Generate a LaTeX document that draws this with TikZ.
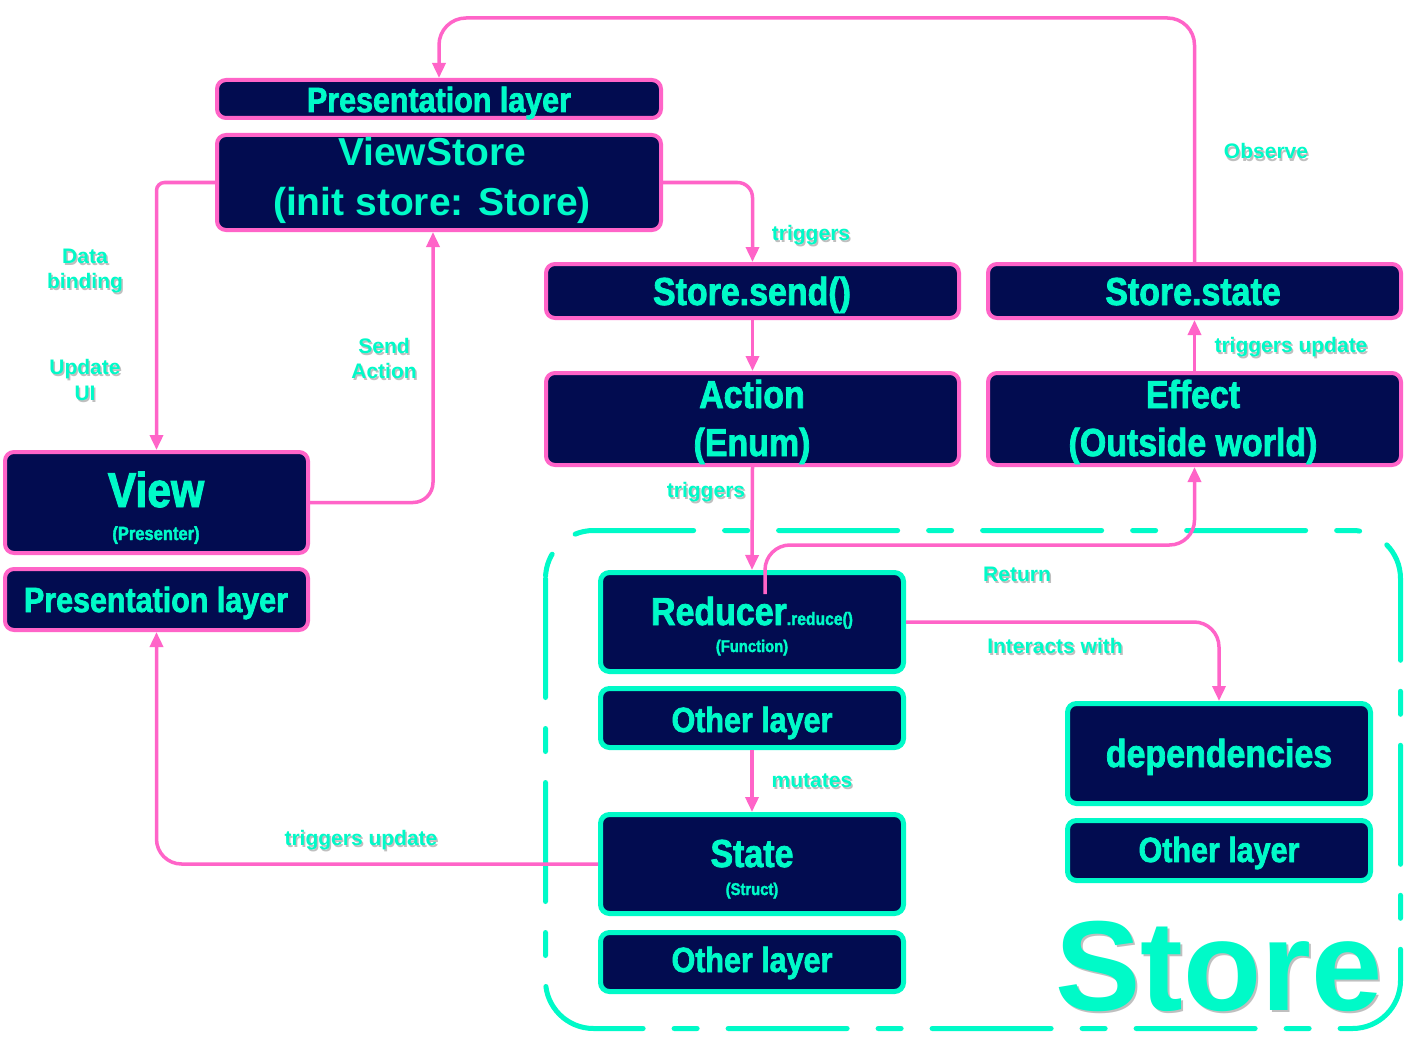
\documentclass[tikz,border=0pt]{standalone}
\usepackage{fontspec}
\setmainfont{Liberation Sans}
\newfontfamily\cond{Liberation Sans}[FakeStretch=0.87, BoldFeatures={FakeBold=2}]
\usetikzlibrary{arrows.meta}
\definecolor{navyc}{RGB}{2,12,80}
\definecolor{mintc}{RGB}{0,250,200}
\definecolor{pinkc}{RGB}{255,100,200}
\newcommand\fs[1]{\fontsize{#1}{#1}\selectfont}
\tikzset{
  pbox/.style={draw=pinkc, line width=4pt, fill=navyc, rounded corners=9pt, inner sep=0pt},
  mbox/.style={draw=mintc, line width=5pt, fill=navyc, rounded corners=9pt, inner sep=0pt},
  conn/.style={draw=pinkc, line width=3.5pt, -{Triangle[length=15pt,width=13pt]}},
  btxt/.style={text=mintc, anchor=base, inner sep=0pt},
  lbl/.style={text=mintc, anchor=base, inner sep=0pt, font=\bfseries\fs{21}},
  lblsh/.style={text=black!55, opacity=0.45, anchor=base, inner sep=0pt, font=\bfseries\fs{21}},
}
\newcommand\lab[4]{%
  \node[lblsh] (#1s) at (#2+1.5,#3+2.5) {#4};
  \node[lbl] (#1) at (#2,#3) {#4};}
\begin{document}
\begin{tikzpicture}[x=1pt,y=-1pt]
\fill[white] (0,0) rectangle (1406,1054);
\useasboundingbox (0,0) rectangle (1406,1054);

% Store container
\draw[mintc, line width=5pt, line cap=round, dash pattern=on 119pt off 31pt on 23pt off 31pt, rounded corners=48pt]
  (545.5,530.5) rectangle (1400.5,1028.5);
\node[text=black!55, opacity=0.45, anchor=base, inner sep=0pt, font=\bfseries\fs{128}] (storeSh) at (1221,1012) {Store};
\node[text=mintc, anchor=base, inner sep=0pt, font=\bfseries\fs{128}] (storeT) at (1219,1010) {Store};

% Pink boxes
\node[pbox, minimum width=444pt, minimum height=38pt] (plTop) at (439,99) {};
\node[pbox, minimum width=444pt, minimum height=95pt] (vs) at (439,182.5) {};
\node[pbox, minimum width=303pt, minimum height=101pt] (view) at (156.5,502.5) {};
\node[pbox, minimum width=303pt, minimum height=61pt] (plBot) at (156.5,599.5) {};
\node[pbox, minimum width=413pt, minimum height=54pt] (send) at (752.5,291) {};
\node[pbox, minimum width=413pt, minimum height=54pt] (sstate) at (1194.5,291) {};
\node[pbox, minimum width=413pt, minimum height=92pt] (action) at (752.5,419) {};
\node[pbox, minimum width=413pt, minimum height=92pt] (effect) at (1194.5,419) {};
% Mint boxes
\node[mbox, minimum width=303pt, minimum height=99pt] (reducer) at (752,622) {};
\node[mbox, minimum width=303pt, minimum height=59pt] (ol1) at (752,718) {};
\node[mbox, minimum width=303pt, minimum height=99pt] (state) at (752,864) {};
\node[mbox, minimum width=303pt, minimum height=59pt] (ol2) at (752,962) {};
\node[mbox, minimum width=303pt, minimum height=100pt] (deps) at (1219,753.5) {};
\node[mbox, minimum width=303pt, minimum height=60pt] (ol3) at (1219,850.5) {};

% Box texts
\node[btxt, font=\cond\bfseries\fs{35}] (plTopT) at (439,112) {Presentation layer};
\node[btxt, font=\bfseries\fs{39}] (vsT1) at (432,166) {ViewStore};
\node[btxt, font=\bfseries\fs{39}] (vsT2) at (432,215) {(init store: Store)};
\node[btxt, font=\cond\bfseries\fs{49}] (viewT1) at (156,507) {View};
\node[btxt, font=\cond\bfseries\fs{19}] (viewT2) at (156,540) {(Presenter)};
\node[btxt, font=\cond\bfseries\fs{35}] (plBotT) at (156,612) {Presentation layer};
\node[btxt, font=\cond\bfseries\fs{39}] (sendT) at (752,305) {Store.send()};
\node[btxt, font=\cond\bfseries\fs{39}] (sstateT) at (1193,305) {Store.state};
\node[btxt, font=\cond\bfseries\fs{39}] (actionT1) at (752,408) {Action};
\node[btxt, font=\cond\bfseries\fs{39}] (actionT2) at (752,456) {(Enum)};
\node[btxt, font=\cond\bfseries\fs{39}] (effectT1) at (1193,408) {Effect};
\node[btxt, font=\cond\bfseries\fs{39}] (effectT2) at (1193,456) {(Outside world)};
\node[btxt, font=\cond\bfseries\fs{39}] (reducerT1) at (752,625) {Reducer{\fs{18}.reduce()}};
\node[btxt, font=\cond\bfseries\fs{17}] (reducerT2) at (752,652) {(Function)};
\node[btxt, font=\cond\bfseries\fs{35}] (ol1T) at (752,732) {Other layer};
\node[btxt, font=\cond\bfseries\fs{39}] (stateT1) at (752,867) {State};
\node[btxt, font=\cond\bfseries\fs{17}] (stateT2) at (752,895) {(Struct)};
\node[btxt, font=\cond\bfseries\fs{35}] (ol2T) at (752,972) {Other layer};
\node[btxt, font=\cond\bfseries\fs{39}] (depsT) at (1219,767) {dependencies};
\node[btxt, font=\cond\bfseries\fs{35}] (ol3T) at (1219,862) {Other layer};

% Connectors
\draw[conn, rounded corners=27pt] (sstate.north) -- ++(0,-244) -| (plTop.north);
\draw[conn, rounded corners=8pt] (vs.west) -| (view.north);
\draw[conn, rounded corners=20pt] (view.east) -| ([xshift=-6pt]vs.south);
\draw[conn, rounded corners=15pt] (vs.east) -| (send.north);
\draw[conn] (send.south) -- (action.north);
\draw[conn] (action.south) -- (reducer.north);
\coordinate (rstart) at (765,594);
\draw[conn, rounded corners=25pt] (rstart) -- ++(0,-49) -| (effect.south);
\draw[conn] (effect.north) -- (sstate.south);
\draw[conn, rounded corners=25pt] (reducer.east) -| (deps.north);
\draw[conn] (ol1.south) -- (state.north);
\draw[conn, rounded corners=25pt] (state.west) -| (plBot.south);

% Labels
\lab{dataA}{85}{263}{Data}
\lab{dataB}{85}{288}{binding}
\lab{updA}{85}{374}{Update}
\lab{updB}{85}{400}{UI}
\lab{sendA}{384}{353}{Send}
\lab{sendB}{384}{378}{Action}
\lab{obs}{1266}{159}{Observe}
\lab{trig1}{811}{240}{triggers}
\lab{trigUp1}{1291}{352}{triggers update}
\lab{trig2}{706}{497}{triggers}
\lab{ret}{1017}{581}{Return}
\lab{inter}{1055}{653}{Interacts with}
\lab{mut}{812}{787}{mutates}
\lab{trigUp2}{361}{845}{triggers update}
\end{tikzpicture}
\end{document}
